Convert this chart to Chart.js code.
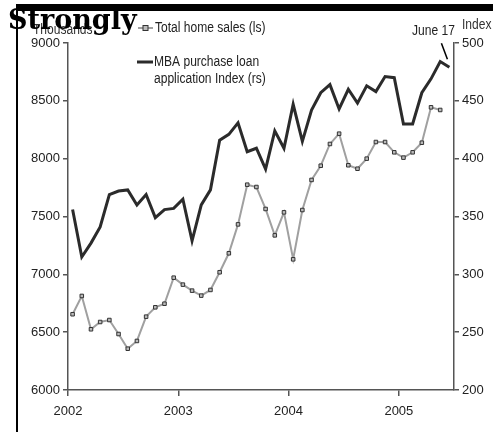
<!DOCTYPE html>
<html>
<head>
<meta charset="utf-8">
<script src="https://cdn.jsdelivr.net/npm/chart.js@4/dist/chart.umd.min.js"></script>
<style>
  body { margin: 0; background: #fff; }
  canvas { display: block; }
</style>
</head>
<body>
<canvas id="myChart" width="493" height="432"></canvas>
<script>
// monthly data, Jan 2002 .. Jun 2005 (MBA last value = June 17)
let salesValues = [6655, 6813, 6525, 6588, 6605, 6484, 6357, 6424, 6634, 6715, 6746, 6971,
    6911, 6859, 6816, 6865, 7018, 7182, 7432, 7775, 7755, 7565, 7337, 7536,
    7130, 7556, 7816, 7939, 8127, 8216, 7943, 7913, 8000, 8144, 8144, 8055,
    8009, 8055, 8138, 8444, 8421];
let mbaValues = [356, 315, 327, 341, 369, 372, 373, 360, 369, 349, 356, 357,
    365, 329, 360, 373, 416, 421, 431, 406, 409, 391, 424, 409,
    447, 415, 442, 457, 464, 443, 460, 448, 463, 458, 471, 470,
    430, 430, 457, 469, 484, 479];
let yearLabels = ["2002", "2003", "2004", "2005"];
let startYear = 2002;

let salesLabel = "Total home sales (ls)";
let mbaLabel = ["MBA purchase loan", "application Index (rs)"];

// month i sits in the middle of its month on the year axis
function monthPos(i) { return startYear + (i + 0.5) / 12; }

let font = "'Liberation Sans', Arial, sans-serif";
let axisColor = "#555";

// the original uses a condensed sans, squeeze text a bit
function narrowText(c, text, x, y, size) {
    c.save();
    c.font = size + "px " + font;
    c.translate(x, y);
    c.scale(0.86, 1);
    c.fillText(text, 0, 0);
    c.restore();
}

let decorations = {
    id: "decorations",
    afterDraw(chart) {
        let c = chart.ctx;
        c.save();
        // frame bits
        c.fillStyle = "#000";
        c.fillRect(18, 4, 475, 7);
        c.fillRect(16, 4, 2, 428);

        c.fillStyle = "#333";
        c.textBaseline = "alphabetic";
        c.textAlign = "left";
        narrowText(c, "Thousands", 33, 34, 14);
        narrowText(c, "Index", 462, 29, 14);

        c.fillStyle = "#000";
        c.font = "bold 27px 'DejaVu Serif', serif";
        c.fillText("Strongly", 8, 29);

        // legend
        c.strokeStyle = "#a0a0a0";
        c.lineWidth = 2;
        c.beginPath(); c.moveTo(138, 28); c.lineTo(153, 28); c.stroke();
        c.fillStyle = "#bbb"; c.strokeStyle = "#333"; c.lineWidth = 1;
        c.fillRect(143, 25.5, 5, 5); c.strokeRect(143, 25.5, 5, 5);
        c.fillStyle = "#222";
        c.textBaseline = "middle";
        narrowText(c, salesLabel, 155, 28, 14);

        c.strokeStyle = "#2b2b2b"; c.lineWidth = 3;
        c.beginPath(); c.moveTo(137, 62); c.lineTo(153, 62); c.stroke();
        narrowText(c, mbaLabel[0], 154, 62, 14);
        narrowText(c, mbaLabel[1], 154, 79, 14);

        // June 17 callout
        let x = chart.scales.x.getPixelForValue(monthPos(mbaValues.length - 1));
        let y = chart.scales.y2.getPixelForValue(mbaValues[mbaValues.length - 1]);
        narrowText(c, "June 17", 412, 31, 14);
        c.strokeStyle = "#000"; c.lineWidth = 1.5;
        c.beginPath(); c.moveTo(x - 8, y - 24); c.lineTo(x - 2, y - 8); c.stroke();
        c.restore();
    },
};

let tickFont = { family: font, size: 13 };

let ctx = document.getElementById("myChart").getContext("2d");
let myChart = new Chart(ctx, {
    type: "line",
    data: {
        datasets: [
            {
                label: mbaLabel.join(" "),
                data: mbaValues.map((v, i) => ({ x: monthPos(i), y: v })),
                yAxisID: "y2",
                borderColor: "#2b2b2b",
                borderWidth: 3,
                pointRadius: 0,
                tension: 0,
            },
            {
                label: salesLabel,
                data: salesValues.map((v, i) => ({ x: monthPos(i), y: v })),
                yAxisID: "y",
                borderColor: "#a0a0a0",
                borderWidth: 2,
                pointStyle: "rect",
                pointRadius: 2.5,
                pointBorderColor: "#333",
                pointBackgroundColor: "#bbb",
                pointBorderWidth: 1,
                tension: 0,
            },
        ],
    },
    options: {
        responsive: false,
        animation: false,
        layout: { padding: { top: 43, left: 0, right: 0, bottom: 0 } },
        plugins: { legend: { display: false }, tooltip: { enabled: false } },
        scales: {
            x: {
                type: "linear",
                min: startYear,
                max: startYear + 3.5,
                afterFit: (s) => { s.height = 42; },
                afterBuildTicks: (s) => {
                    s.ticks = yearLabels.map((l) => ({ value: Number(l) }));
                },
                ticks: {
                    padding: 8,
                    color: "#222",
                    font: tickFont,
                    callback: (v) => String(v),
                },
                grid: { drawOnChartArea: false, tickLength: 6, color: axisColor, lineWidth: 1.5 },
                border: { color: axisColor, width: 1.5 },
            },
            y: {
                position: "left",
                min: 6000,
                max: 9000,
                afterFit: (s) => { s.width = 68; },
                ticks: {
                    stepSize: 500,
                    padding: 3,
                    color: "#222",
                    font: tickFont,
                    callback: (v) => String(v),
                },
                grid: { drawOnChartArea: false, tickLength: 5, color: axisColor, lineWidth: 1.5 },
                border: { color: axisColor, width: 1.5 },
            },
            y2: {
                position: "right",
                min: 200,
                max: 500,
                afterFit: (s) => { s.width = 39; },
                ticks: {
                    stepSize: 50,
                    padding: 3,
                    color: "#222",
                    font: tickFont,
                    callback: (v) => String(v),
                },
                grid: { drawOnChartArea: false, tickLength: 5, color: axisColor, lineWidth: 1.5 },
                border: { color: axisColor, width: 1.5 },
            },
        },
    },
    plugins: [decorations],
});
</script>
</body>
</html>
